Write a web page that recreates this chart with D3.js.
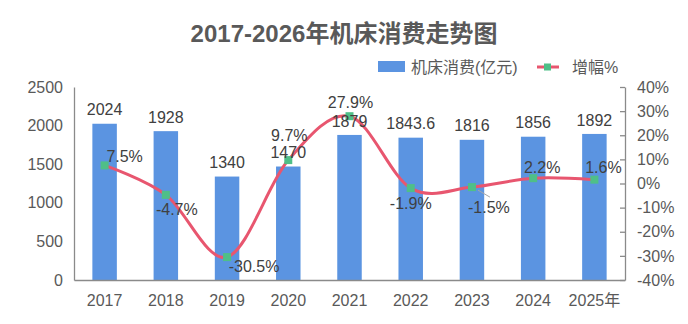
<!DOCTYPE html>
<html>
<head>
<meta charset="utf-8">
<script src="https://cdn.jsdelivr.net/npm/d3@7/dist/d3.min.js"></script>
<style>
  html, body { margin: 0; padding: 0; background: #fff; }
  svg { display: block; font-family: "Liberation Sans", Arial, "Noto Sans CJK SC", sans-serif; }
</style>
</head>
<body>
<svg id="chart" width="688" height="324"></svg>
<script>
// Machine tool consumption (100M CNY) and year-over-year growth
const years = ["2017", "2018", "2019", "2020", "2021", "2022", "2023", "2024", "2025年"];
const consumption = [2024, 1928, 1340, 1470, 1879, 1843.6, 1816, 1856, 1892];
const growth = [7.5, -4.7, -30.5, 9.7, 27.9, -1.9, -1.5, 2.2, 1.6];
const leftTicks = [0, 500, 1000, 1500, 2000, 2500];
const rightTicks = [-40, -30, -20, -10, 0, 10, 20, 30, 40];

// Label placement for the growth labels (offset of label centre from its point)
const growthLabelOffset = [[20, -9], [11, 15], [27, 9], [1, -25], [1, -14], [0, 15], [17, 20], [9, -11], [9, -12]];

const svg = d3.select("#chart");
const plotLeft = 74, plotRight = 625, plotTop = 87, plotBottom = 280;
const textColor = "#595959", labelColor = "#404040", axisColor = "#8a8a8a";
const barColor = "#5B94E1", lineColor = "#E8566F", markerColor = "#4FBF88";

const x = d3.scaleBand().domain(years).range([plotLeft, plotRight]).paddingInner(0.6).paddingOuter(0.3);
const yL = d3.scaleLinear().domain([0, 2500]).range([plotBottom, plotTop]);
const yR = d3.scaleLinear().domain([-40, 40]).range([plotBottom, plotTop]);
const cx = d => x(d) + x.bandwidth() / 2;

// Title
svg.append("text")
  .attr("x", 344).attr("y", 42)
  .attr("text-anchor", "middle")
  .attr("font-size", 24).attr("font-weight", "bold")
  .attr("fill", textColor)
  .text("2017-2026年机床消费走势图");

// Legend
const lg = svg.append("g").attr("font-size", 16).attr("fill", textColor);
lg.append("rect").attr("x", 378).attr("y", 61).attr("width", 27).attr("height", 11).attr("fill", barColor);
lg.append("text").attr("x", 411).attr("y", 67).attr("dy", "0.35em").attr("fill", textColor).text("机床消费(亿元)");
lg.append("line").attr("x1", 537).attr("x2", 559).attr("y1", 67).attr("y2", 67)
  .attr("stroke", lineColor).attr("stroke-width", 3);
lg.append("rect").attr("x", 544).attr("y", 63.5).attr("width", 7).attr("height", 7).attr("fill", markerColor);
lg.append("text").attr("x", 572).attr("y", 67).attr("dy", "0.35em").attr("fill", textColor).text("增幅%");

// Bars
svg.append("g").selectAll("rect").data(consumption).join("rect")
  .attr("x", (d, i) => x(years[i]))
  .attr("width", x.bandwidth())
  .attr("y", d => yL(d))
  .attr("height", d => yL(0) - yL(d))
  .attr("fill", barColor);

// Axes
function styleAxis(g) {
  g.select(".domain").attr("stroke", axisColor).attr("stroke-width", 1.3);
  g.selectAll(".tick line").attr("stroke", axisColor).attr("stroke-width", 1.3);
  g.selectAll(".tick text").attr("fill", textColor).attr("font-size", 16)
    .attr("font-family", '"Liberation Sans", Arial, "Noto Sans CJK SC", sans-serif');
}
svg.append("g").attr("transform", `translate(${plotLeft},0)`)
  .call(d3.axisLeft(yL).tickValues(leftTicks).tickSize(0).tickPadding(11).tickFormat(d => String(d)))
  .call(styleAxis);
svg.append("g").attr("transform", `translate(${plotRight},0)`)
  .call(d3.axisRight(yR).tickValues(rightTicks).tickSizeInner(-5).tickSizeOuter(0).tickPadding(12).tickFormat(d => d + "%"))
  .call(styleAxis);
svg.append("g").attr("transform", `translate(0,${plotBottom})`)
  .call(d3.axisBottom(x).tickSize(0).tickPadding(15))
  .call(styleAxis);

// Growth line (smoothed)
const pts = growth.map((g, i) => [cx(years[i]), yR(g)]);
svg.append("path")
  .attr("d", d3.line().curve(d3.curveCatmullRom.alpha(0))(pts))
  .attr("fill", "none").attr("stroke", lineColor).attr("stroke-width", 3)
  .attr("stroke-linecap", "round");

svg.append("g").selectAll("rect").data(pts).join("rect")
  .attr("x", d => d[0] - 4).attr("y", d => d[1] - 4)
  .attr("width", 8).attr("height", 8)
  .attr("fill", markerColor);

// Leader line for the 2023 growth label
{
  const p = pts[6];
  svg.append("line")
    .attr("x1", p[0] + 6).attr("y1", p[1] + 3)
    .attr("x2", p[0] + 18).attr("y2", p[1] + 10)
    .attr("stroke", "#a6a6a6").attr("stroke-width", 1);
}

// Bar value labels
svg.append("g").selectAll("text").data(consumption).join("text")
  .attr("x", (d, i) => cx(years[i]))
  .attr("y", d => yL(d) - 14)
  .attr("dy", "0.35em")
  .attr("text-anchor", "middle")
  .attr("font-size", 16).attr("fill", labelColor)
  .text(d => d);

// Growth value labels
svg.append("g").selectAll("text").data(growth).join("text")
  .attr("x", (d, i) => pts[i][0] + growthLabelOffset[i][0])
  .attr("y", (d, i) => pts[i][1] + growthLabelOffset[i][1])
  .attr("dy", "0.35em")
  .attr("text-anchor", "middle")
  .attr("font-size", 16).attr("fill", labelColor)
  .text(d => d + "%");
</script>
</body>
</html>
